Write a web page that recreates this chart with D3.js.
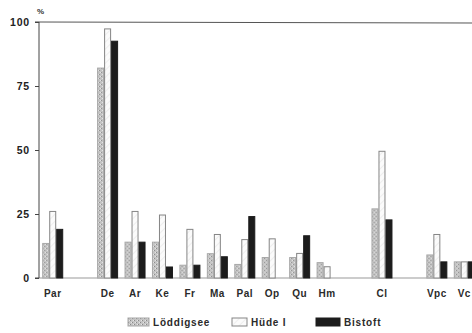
<!DOCTYPE html>
<html>
<head>
<meta charset="utf-8">
<script src="https://cdn.jsdelivr.net/npm/d3@7/dist/d3.min.js"></script>
<style>
  html, body { margin: 0; padding: 0; background: #fff; }
  svg { display: block; font-family: "Liberation Sans", Arial, sans-serif; }
</style>
</head>
<body>
<svg id="chart" width="472" height="333"></svg>
<script>
// Pollen type groups along the x axis
const categories = ["Par", "De", "Ar", "Ke", "Fr", "Ma", "Pal", "Op", "Qu", "Hm", "Cl", "Vpc", "Vc"];
// Groups followed by an empty slot on the axis
const gapAfter = ["Par", "Hm", "Cl"];
const seriesNames = ["Löddigsee", "Hüde I", "Bistoft"];

// Percentages per site
const loeddigsee = [13.5, 82, 14, 14, 5, 9.5, 5.3, 8, 8, 6, 27, 9, 6.3];
const huede      = [26, 97.3, 26, 24.6, 19, 17, 15, 15.3, 9.6, 4.4, 49.5, 17, 6.3];
const bistoft    = [19, 92.5, 14, 4.3, 5, 8.3, 24, 0, 16.5, 0, 22.7, 6.3, 6.3];

const yTicks = [0, 25, 50, 75, 100];

const series = [loeddigsee, huede, bistoft];
const svg = d3.select("#chart");

// Fill patterns
const defs = svg.append("defs");
const stip = defs.append("pattern").attr("id", "stipple")
  .attr("patternUnits", "userSpaceOnUse").attr("width", 4).attr("height", 4);
stip.append("rect").attr("width", 4).attr("height", 4).attr("fill", "#c4c4c4");
stip.append("rect").attr("x", 0).attr("y", 0).attr("width", 1).attr("height", 1).attr("fill", "#8a8a8a");
stip.append("rect").attr("x", 2).attr("y", 2).attr("width", 1).attr("height", 1).attr("fill", "#8a8a8a");
stip.append("rect").attr("x", 3).attr("y", 0).attr("width", 1).attr("height", 1).attr("fill", "#e6e6e6");
stip.append("rect").attr("x", 1).attr("y", 2).attr("width", 1).attr("height", 1).attr("fill", "#e6e6e6");

const hatch = defs.append("pattern").attr("id", "hatch")
  .attr("patternUnits", "userSpaceOnUse").attr("width", 5).attr("height", 5)
  .attr("patternTransform", "rotate(45)");
hatch.append("rect").attr("width", 5).attr("height", 5).attr("fill", "#fbfbfb");
hatch.append("line").attr("x1", 0).attr("y1", 0).attr("x2", 0).attr("y2", 5)
  .attr("stroke", "#e2e2e2").attr("stroke-width", 1);

const fills = ["url(#stipple)", "url(#hatch)", "#1c1c1c"];
const strokes = ["#a8a8a8", "#858585", "#1c1c1c"];

// Axis slots, with blank slots after selected groups
const slots = [];
categories.forEach(c => {
  slots.push(c);
  if (gapAfter.includes(c)) slots.push("gap-" + c);
});

const x0 = d3.scaleBand().domain(slots).range([39, 478]).paddingInner(0).paddingOuter(0);
const x1 = d3.scaleBand().domain(seriesNames).range([0, 21]).padding(0);
const groupOffset = (x0.bandwidth() - 21) / 2;
const y = d3.scaleLinear().domain([0, 100]).range([278, 22]);

// Frame: top rule and baseline
svg.append("line").attr("x1", 39).attr("x2", 472).attr("y1", y(100)).attr("y2", y(100) + 1)
  .attr("stroke", "#555").attr("stroke-width", 1);
svg.append("line").attr("x1", 39).attr("x2", 472).attr("y1", y(0)).attr("y2", y(0))
  .attr("stroke", "#999").attr("stroke-width", 1);

// Bars
const groups = svg.append("g").selectAll("g")
  .data(categories).join("g")
  .attr("transform", c => `translate(${x0(c) + groupOffset},0)`);

groups.selectAll("rect")
  .data((c, i) => seriesNames.map((s, k) => ({ k, s, v: series[k][i] })).filter(d => d.v > 0))
  .join("rect")
  .attr("x", d => x1(d.s) + 0.5)
  .attr("width", x1.bandwidth() - 1)
  .attr("y", d => y(d.v))
  .attr("height", d => y(0) - y(d.v))
  .attr("fill", d => fills[d.k])
  .attr("stroke", d => strokes[d.k])
  .attr("stroke-width", 1);

// Y axis
const yAxis = d3.axisLeft(y).tickValues(yTicks).tickSize(4).tickPadding(5);
const ya = svg.append("g").attr("transform", "translate(39,0)").call(yAxis);
ya.select(".domain").attr("stroke", "#444").attr("d", `M-4,${y(100)}H0V${y(0)}H-4`);
ya.selectAll(".tick line").attr("stroke", "#444");
ya.selectAll(".tick text").attr("fill", "#222").attr("font-size", 10.5)
  .attr("font-weight", "bold").attr("letter-spacing", 0.8);

svg.append("text").attr("x", 37).attr("y", 14).attr("font-size", 8).attr("font-weight", "bold")
  .attr("fill", "#333").text("%");

// Category labels
svg.append("g").selectAll("text")
  .data(categories).join("text")
  .attr("x", c => x0(c) + x0.bandwidth() / 2)
  .attr("y", 297)
  .attr("text-anchor", "middle")
  .attr("font-size", 10).attr("font-weight", "bold").attr("fill", "#2a2a2a")
  .attr("letter-spacing", 0.5)
  .text(c => c);

// Legend
const legendX = [128, 232, 316];
const legendW = [21, 15, 24];
const lg = svg.append("g").selectAll("g").data(seriesNames).join("g")
  .attr("transform", (d, i) => `translate(${legendX[i]},318)`);
lg.append("rect").attr("width", (d, i) => legendW[i]).attr("height", 8)
  .attr("fill", (d, i) => fills[i]).attr("stroke", (d, i) => strokes[i]);
lg.append("text").attr("x", (d, i) => legendW[i] + 4).attr("y", 8)
  .attr("font-size", 10).attr("font-weight", "bold").attr("fill", "#2a2a2a")
  .attr("letter-spacing", 0.8)
  .text(d => d);
</script>
</body>
</html>
